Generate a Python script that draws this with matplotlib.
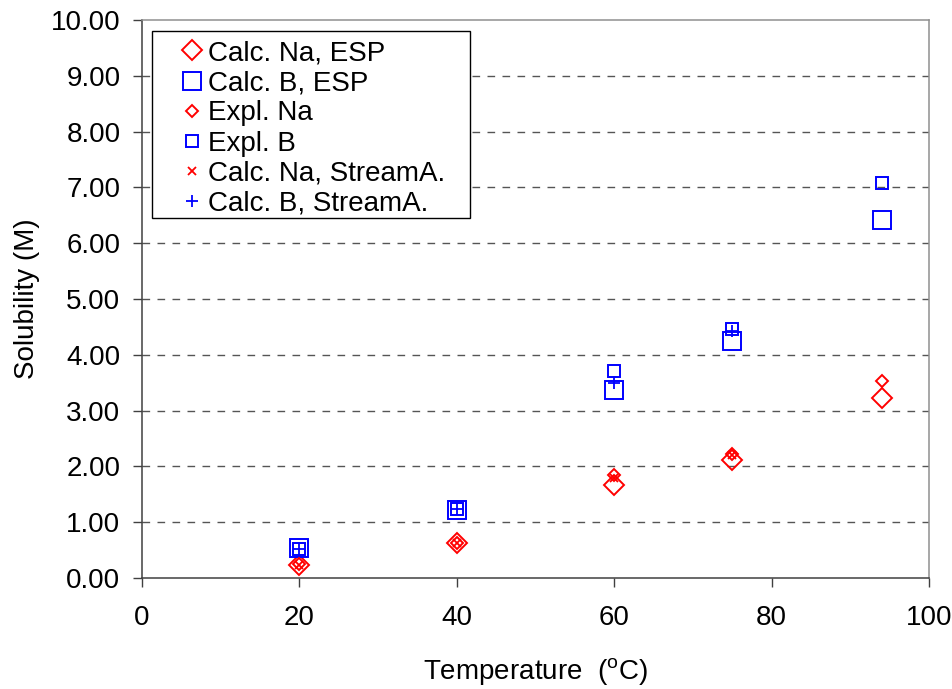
import matplotlib
matplotlib.use("Agg")
import matplotlib.pyplot as plt
from matplotlib.patches import Rectangle

plt.rcParams['font.family'] = ['Liberation Sans', 'DejaVu Sans']
plt.rcParams['mathtext.fontset'] = 'custom'
plt.rcParams['mathtext.rm'] = 'Liberation Sans'

# Data
temps = [20, 40, 60, 75, 94]
calc_na_esp = [0.23, 0.62, 1.67, 2.11, 3.22]
calc_b_esp = [0.53, 1.22, 3.37, 4.25, 6.42]
expl_na = [0.26, 0.63, 1.84, 2.23, 3.53]
expl_b = [0.52, 1.24, 3.71, 4.47, 7.08]
temps_stream = [20, 40, 60, 75]
calc_na_stream = [0.24, 0.62, 1.79, 2.20]
calc_b_stream = [0.52, 1.24, 3.49, 4.42]

red = "#FF0000"
blue = "#0000FF"

fig = plt.figure(figsize=(9.53, 6.89), dpi=100)
ax = fig.add_axes([0.149, 0.161, 0.826, 0.810])

ax.plot(temps, calc_na_esp, ls="none", marker="D", ms=10.2, mfc="none", mec=red, mew=1.4, label="Calc. Na, ESP")
ax.plot(temps, calc_b_esp, ls="none", marker="s", ms=13.2, mfc="none", mec=blue, mew=1.4, label="Calc. B, ESP")
ax.plot(temps, expl_na, ls="none", marker="D", ms=6.6, mfc="none", mec=red, mew=1.4, label="Expl. Na")
ax.plot(temps, expl_b, ls="none", marker="s", ms=8.8, mfc="none", mec=blue, mew=1.4, label="Expl. B")
ax.plot(temps_stream, calc_na_stream, ls="none", marker="x", ms=6, mec=red, mew=1.3, label="Calc. Na, StreamA.")
ax.plot(temps_stream, calc_b_stream, ls="none", marker="+", ms=8, mec=blue, mew=1.3, label="Calc. B, StreamA.")

ax.set_xlim(0, 100)
ax.set_ylim(0, 10)
ax.set_xticks(range(0, 101, 20))
ax.set_yticks(range(0, 11))
ax.set_yticklabels([f"{v:.2f}" for v in range(0, 11)])
ax.tick_params(axis="both", direction="out", length=6.5, width=1.0, color="#404040",
               labelsize=20)
ax.tick_params(axis="y", pad=9)
ax.tick_params(axis="x", pad=13)

for y in range(1, 10):
    ax.axhline(y, color="#555555", lw=1.0, ls=(0, (5.5, 5.3)), zorder=0)

for side in ["left", "bottom"]:
    ax.spines[side].set_color("#404040")
    ax.spines[side].set_linewidth(1.1)
for side in ["top", "right"]:
    ax.spines[side].set_color("#909090")
    ax.spines[side].set_linewidth(1.1)

ax.set_xlabel(r"Temperature  ($^{\mathrm{o}}$C)", fontsize=20, labelpad=18)
ax.set_ylabel("Solubility (M)", fontsize=20, labelpad=8)

# legend box drawn separately so it can be wider than the entries
ax.add_patch(Rectangle((0.0127, 0.6452), 0.4041, 0.3351, transform=ax.transAxes,
                       facecolor="white", edgecolor="black", lw=1.0, zorder=4))
leg = ax.legend(loc="upper left", bbox_to_anchor=(0.0457, 0.964), borderaxespad=0,
                fontsize=20, frameon=False, labelspacing=0.15,
                handletextpad=0.07, handlelength=1.0, borderpad=0, numpoints=1)
leg.set_zorder(5)

fig.savefig("out.png", dpi=100)
